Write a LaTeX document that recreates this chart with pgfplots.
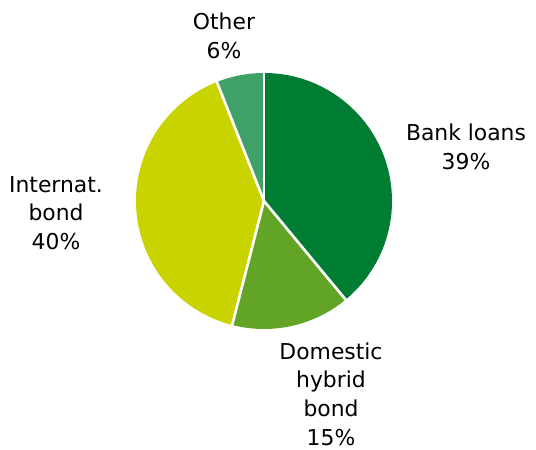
\documentclass[border=0pt]{standalone}
\usepackage{pgfplots}
\pgfplotsset{compat=1.18}
\usepackage{fontspec}
\setmainfont{DejaVu Sans}
\definecolor{cBank}{HTML}{007C33}
\definecolor{cDom}{HTML}{62A425}
\definecolor{cInt}{HTML}{C8D300}
\definecolor{cOth}{HTML}{3FA068}
% shares in percent
\def\vBank{39}
\def\vDom{15}
\def\vInt{40}
\def\vOth{6}
\tikzset{lbl/.style={font=\fontsize{16.4}{21.5}\selectfont, align=center, text=black, inner sep=0pt}}
\begin{document}
\begin{tikzpicture}
\begin{axis}[
  scale only axis, width=402pt, height=337.5pt,
  xmin=0, xmax=536, ymin=0, ymax=450,
  hide axis, clip=false,
]
\path (rel axis cs:0,0) rectangle (rel axis cs:1,1);
\coordinate (C) at (axis cs:264,249);
% slices, clockwise from the top
\fill[cBank] (C) -- ++(90:96pt) arc[start angle=90, end angle={90-3.6*\vBank}, radius=96pt] -- cycle;
\fill[cDom] (C) -- ++({90-3.6*\vBank}:96pt) arc[start angle={90-3.6*\vBank}, end angle={90-3.6*(\vBank+\vDom)}, radius=96pt] -- cycle;
\fill[cInt] (C) -- ++({90-3.6*(\vBank+\vDom)}:96pt) arc[start angle={90-3.6*(\vBank+\vDom)}, end angle={90-3.6*(\vBank+\vDom+\vInt)}, radius=96pt] -- cycle;
\fill[cOth] (C) -- ++({90-3.6*(\vBank+\vDom+\vInt)}:96pt) arc[start angle={90-3.6*(\vBank+\vDom+\vInt)}, end angle={-270}, radius=96pt] -- cycle;
% separators
\draw[white, line width=2pt] (C) -- ++(90:96.5pt);
\draw[white, line width=2pt] (C) -- ++({90-3.6*\vBank}:96.5pt);
\draw[white, line width=2pt] (C) -- ++({90-3.6*(\vBank+\vDom)}:96.5pt);
\draw[white, line width=2pt] (C) -- ++({90-3.6*(\vBank+\vDom+\vInt)}:96.5pt);
% labels
\node[lbl] at (axis cs:224,414) {Other\\6\%};
\node[lbl] at (axis cs:466,303) {Bank loans\\39\%};
\node[lbl] at (axis cs:56,237) {Internat.\\bond\\40\%};
\node[lbl] at (axis cs:331,56) {Domestic\\hybrid\\bond\\15\%};
\end{axis}
\end{tikzpicture}
\end{document}
